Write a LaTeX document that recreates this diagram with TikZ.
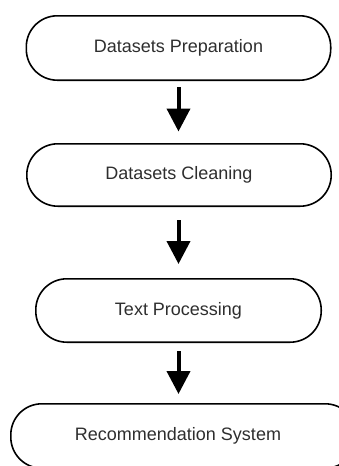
\documentclass[tikz,border=0pt]{standalone}
\usepackage{fontspec}
\setmainfont{Liberation Sans}
\usetikzlibrary{arrows.meta}
\definecolor{labelgray}{HTML}{2E2E2E}
\tikzset{
  stage/.style={draw=black, line width=1.6pt, rounded corners=31pt,
    inner sep=0pt, text=labelgray, font=\fontsize{18}{22}\selectfont},
  flow/.style={line width=4pt, -{Triangle[width=23pt,length=23pt]}}
}
\begin{document}
\begin{tikzpicture}[x=1pt,y=-1pt]
  \useasboundingbox (0,0) rectangle (339,466);
  % the four processing stages
  \node[stage, minimum width=304.4pt, minimum height=64.4pt] (b1) at (178.5,48) {Datasets Preparation};
  \node[stage, minimum width=304.4pt, minimum height=62.4pt] (b2) at (179,175) {Datasets Cleaning};
  \node[stage, minimum width=285.4pt, minimum height=63.4pt] (b3) at (178.5,310.5) {Text Processing};
  \node[stage, minimum width=345.4pt, minimum height=64.4pt,
        label={[xshift=-5.5pt, text=labelgray, font=\fontsize{18}{22}\selectfont]center:Recommendation System}]
        (b4) at (183.5,436) {};
  % arrows between stages
  \draw[flow, shorten <=6pt, shorten >=11.5pt] (b1.south) -- (b1.south |- b2.north);
  \draw[flow, shorten <=13pt, shorten >=14pt] (b1.south |- b2.south) -- (b1.south |- b3.north);
  \draw[flow, shorten <=8pt, shorten >=9pt] (b3.south) -- (b3.south |- b4.north);
\end{tikzpicture}
\end{document}
